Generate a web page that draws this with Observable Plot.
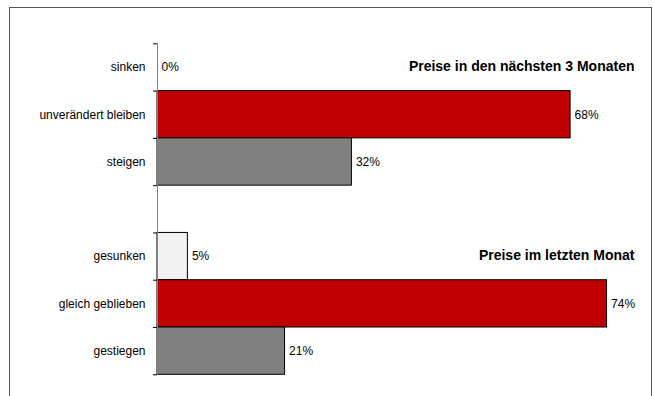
<!DOCTYPE html>
<html>
<head>
<meta charset="utf-8">
<script src="https://cdn.jsdelivr.net/npm/d3@7"></script>
<script src="https://cdn.jsdelivr.net/npm/@observablehq/plot@0.6"></script>
<style>
  html, body { margin: 0; padding: 0; background: #fff; overflow: hidden; }
  #wrap { position: relative; width: 654px; height: 396px; }
  #frame { position: absolute; left: 9px; top: 7px; width: 643px; height: 500px; border: 1px solid #555; box-sizing: border-box; pointer-events: none; }
  #chart { position: absolute; left: 0; top: 0; }
</style>
</head>
<body>
<div id="wrap"><div id="chart"></div><div id="frame"></div></div>
<script>
// Group 1: expected prices in next 3 months
const categories1 = ["sinken", "unverändert bleiben", "steigen"];
const values1 = [0, 68, 32];
// Group 2: prices in last month
const categories2 = ["gesunken", "gleich geblieben", "gestiegen"];
const values2 = [5, 74, 21];
const barColors = ["#F2F2F2", "#C00000", "#808080"];
const groupTitles = ["Preise in den nächsten 3 Monaten", "Preise im letzten Monat"];

const rows = [];
categories1.forEach((c, i) => rows.push({cat: c, value: values1[i], pos: i, color: barColors[i]}));
categories2.forEach((c, i) => rows.push({cat: c, value: values2[i], pos: i + 4, color: barColors[i]}));
const titleRows = groupTitles.map((t, g) => ({title: t, pos: g * 4}));
const labelByPos = new Map(rows.map(d => [d.pos + 0.5, d.cat]));
const boundaries = d3.range(0, 8);

const chart = Plot.plot({
  width: 654,
  height: 396,
  marginLeft: 157,
  marginRight: 11,
  marginTop: 43.3,
  marginBottom: 21.7,
  x: {domain: [0, 80], axis: null},
  y: {domain: [0, 7], reverse: true, axis: null},
  color: {type: "identity"},
  style: {fontFamily: "'Liberation Sans', Arial, sans-serif", fontSize: "12px", color: "#000", background: "transparent"},
  marks: [
    Plot.rectX(rows.filter(d => d.value > 0), {
      x1: 0, x2: "value", y1: "pos", y2: d => d.pos + 1,
      fill: "color", stroke: "#000", strokeWidth: 1
    }),
    Plot.ruleX([0], {stroke: "#808080", strokeWidth: 1}),
    Plot.axisY({ticks: boundaries, tickSize: 4, tickFormat: () => "", stroke: "#000", label: null}),
    Plot.axisY({ticks: rows.map(d => d.pos + 0.5), tickSize: 0, tickPadding: 12, label: null,
      tickFormat: t => labelByPos.get(t), fontSize: 12, fill: "#000"}),
    Plot.text(rows, {x: "value", y: d => d.pos + 0.5, text: d => d.value + "%",
      textAnchor: "start", dx: 4, fontSize: 12, fill: "#000"}),
    Plot.text(titleRows, {y: d => d.pos + 0.5, text: "title", frameAnchor: "right",
      textAnchor: "end", dx: -9, dy: -1, fontWeight: "bold", fontSize: 14, fill: "#000"})
  ]
});
document.getElementById("chart").appendChild(chart);
</script>
</body>
</html>
